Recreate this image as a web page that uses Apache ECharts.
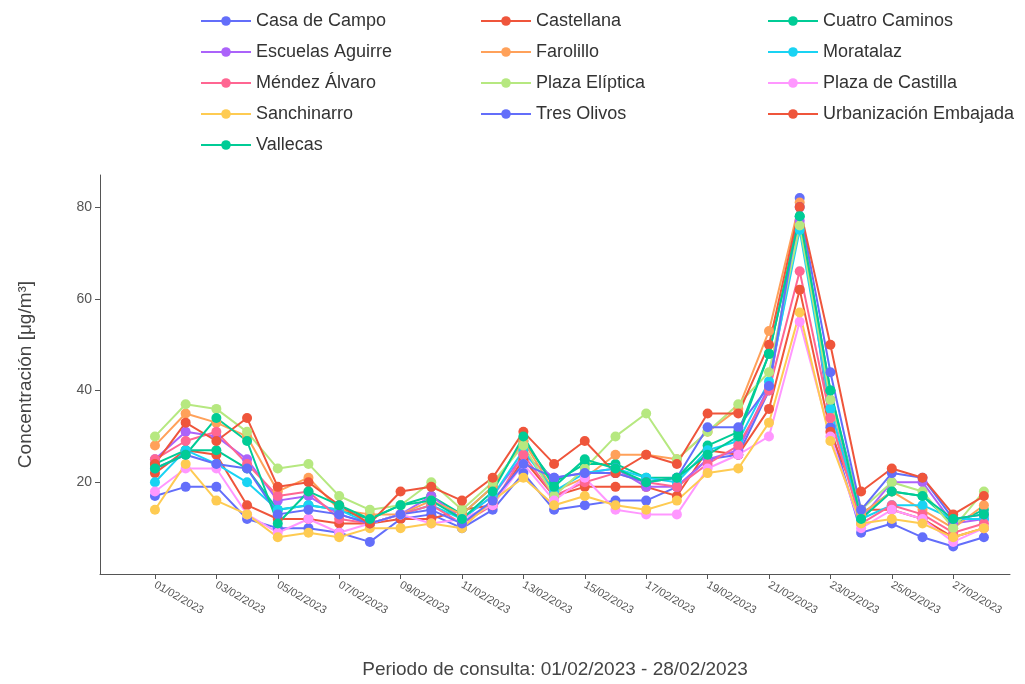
<!DOCTYPE html>
<html><head><meta charset="utf-8">
<script src="https://cdn.jsdelivr.net/npm/echarts@6/dist/echarts.min.js"></script>
<style>html,body{margin:0;background:#fff}#c{width:1025px;height:684px}</style>
</head><body><div id="c"></div>
<script>
// dias 1..28 de febrero 2023
var days = [];
for (var d = 1; d <= 28; d++) days.push(d);
var stations = ["Casa de Campo","Castellana","Cuatro Caminos","Escuelas Aguirre","Farolillo","Moratalaz",
  "Méndez Álvaro","Plaza Elíptica","Plaza de Castilla","Sanchinarro","Tres Olivos","Urbanización Embajada","Vallecas"];
var colors = ["#636efa","#EF553B","#00cc96","#ab63fa","#FFA15A","#19d3f3","#FF6692","#B6E880","#FF97FF","#FECB52","#636efa","#EF553B","#00cc96"];

var casaCampo   = [17,19,19,12,10,10,9,7,12,13,10,14,22,14,15,16,16,19,25,26,40,82,32,9,11,8,6,8];
var castellana  = [22,27,26,15,12,12,11,11,12,12,14,15,25,17,19,19,19,17,27,26,36,62,31,14,14,12,8,10];
var cuatroCam   = [24,27,27,23,14,15,14,12,15,17,13,19,29,20,24,24,21,21,28,31,48,78,40,13,18,17,11,14];
var escuelas    = [25,31,30,25,16,17,13,11,13,17,12,17,26,21,22,23,19,19,25,27,41,77,38,12,20,20,11,12];
var farolillo   = [28,35,33,30,18,21,14,13,13,16,13,19,29,18,21,26,26,25,31,36,53,81,34,13,18,14,10,15];
var moratalaz   = [20,27,24,20,14,15,14,11,13,15,12,17,27,18,22,23,21,20,27,29,42,75,36,12,15,15,12,12];
var mendez      = [25,29,31,24,17,18,12,11,13,15,11,15,26,17,20,22,20,19,24,28,40,66,34,11,15,13,9,11];
var elipticas   = [30,37,36,31,23,24,17,14,15,20,14,20,28,17,23,30,35,25,31,37,44,76,38,14,20,18,10,18];
var castilla    = [18,23,23,13,9,12,9,11,13,11,12,15,24,16,21,14,13,13,23,26,30,55,30,10,14,12,7,10];
var sanchinarro = [14,24,16,13,8,9,8,10,10,11,10,16,21,15,17,15,14,16,22,23,33,57,29,11,12,11,8,10];
var tresOlivos  = [23,26,24,23,13,14,13,11,13,14,11,16,24,21,22,22,20,21,32,32,41,80,44,14,22,21,12,13];
var embajada    = [24,33,29,34,19,20,15,11,18,19,16,21,31,24,29,22,26,24,35,35,50,80,50,18,23,21,13,17];
var vallecas    = [23,26,34,29,11,18,15,12,15,16,12,18,30,19,25,23,20,21,26,30,48,78,40,12,18,17,12,13];
var values = [casaCampo,castellana,cuatroCam,escuelas,farolillo,moratalaz,mendez,elipticas,castilla,sanchinarro,tresOlivos,embajada,vallecas];

var xTicks = [1,3,5,7,9,11,13,15,17,19,21,23,25,27];
var yTicks = [20,40,60,80];
function lbl(d){ return (d<10?"0":"")+d+"/02/2023"; }

var series = stations.map(function(s,i){
  return {
    name: s, type: 'line', symbol: 'circle', symbolSize: 10,
    data: days.map(function(d,j){ return [d, values[i][j]]; }),
    lineStyle: {width: 2}, itemStyle: {color: colors[i]}, color: colors[i]
  };
});

function leg(names, left){
  return {data: names, orient: 'vertical', left: left, top: 7, itemWidth: 50, itemHeight: 12, itemGap: 13,
    textStyle: {fontSize: 18, color: '#333', fontFamily: 'Liberation Sans'}};
}

var myChart = echarts.init(document.getElementById('c'));
myChart.setOption({
  animation: false,
  legend: [
    leg(["Casa de Campo","Escuelas Aguirre","Méndez Álvaro","Sanchinarro","Vallecas"], 195),
    leg(["Castellana","Farolillo","Plaza Elíptica","Tres Olivos"], 475),
    leg(["Cuatro Caminos","Moratalaz","Plaza de Castilla","Urbanización Embajada"], 762)
  ],
  grid: {left: 100, right: 15, top: 175, bottom: 104},
  xAxis: {
    type: 'value', min: -0.79, max: 28.85,
    name: 'Periodo de consulta: 01/02/2023 - 28/02/2023', nameLocation: 'middle', nameGap: 86,
    nameTextStyle: {fontSize: 19, color: '#444', fontFamily: 'Liberation Sans'},
    splitLine: {show: false},
    axisLine: {lineStyle: {color: '#555'}},
    axisTick: {customValues: xTicks, lineStyle: {color: '#555'}, length: 5},
    axisLabel: {customValues: xTicks, rotate: -30, color: '#555', fontSize: 11, formatter: lbl, margin: 10}
  },
  yAxis: {
    type: 'value', min: 0, max: 87,
    name: 'Concentración [μg/m³]', nameLocation: 'middle', nameGap: 65,
    nameTextStyle: {fontSize: 19, color: '#444', fontFamily: 'Liberation Sans'},
    splitLine: {show: false},
    axisLine: {show: true, onZero: false, lineStyle: {color: '#555'}},
    axisTick: {show: true, customValues: yTicks, lineStyle: {color: '#555'}, length: 5},
    axisLabel: {customValues: yTicks, color: '#555', fontSize: 14}
  },
  series: series
});
</script></body></html>
